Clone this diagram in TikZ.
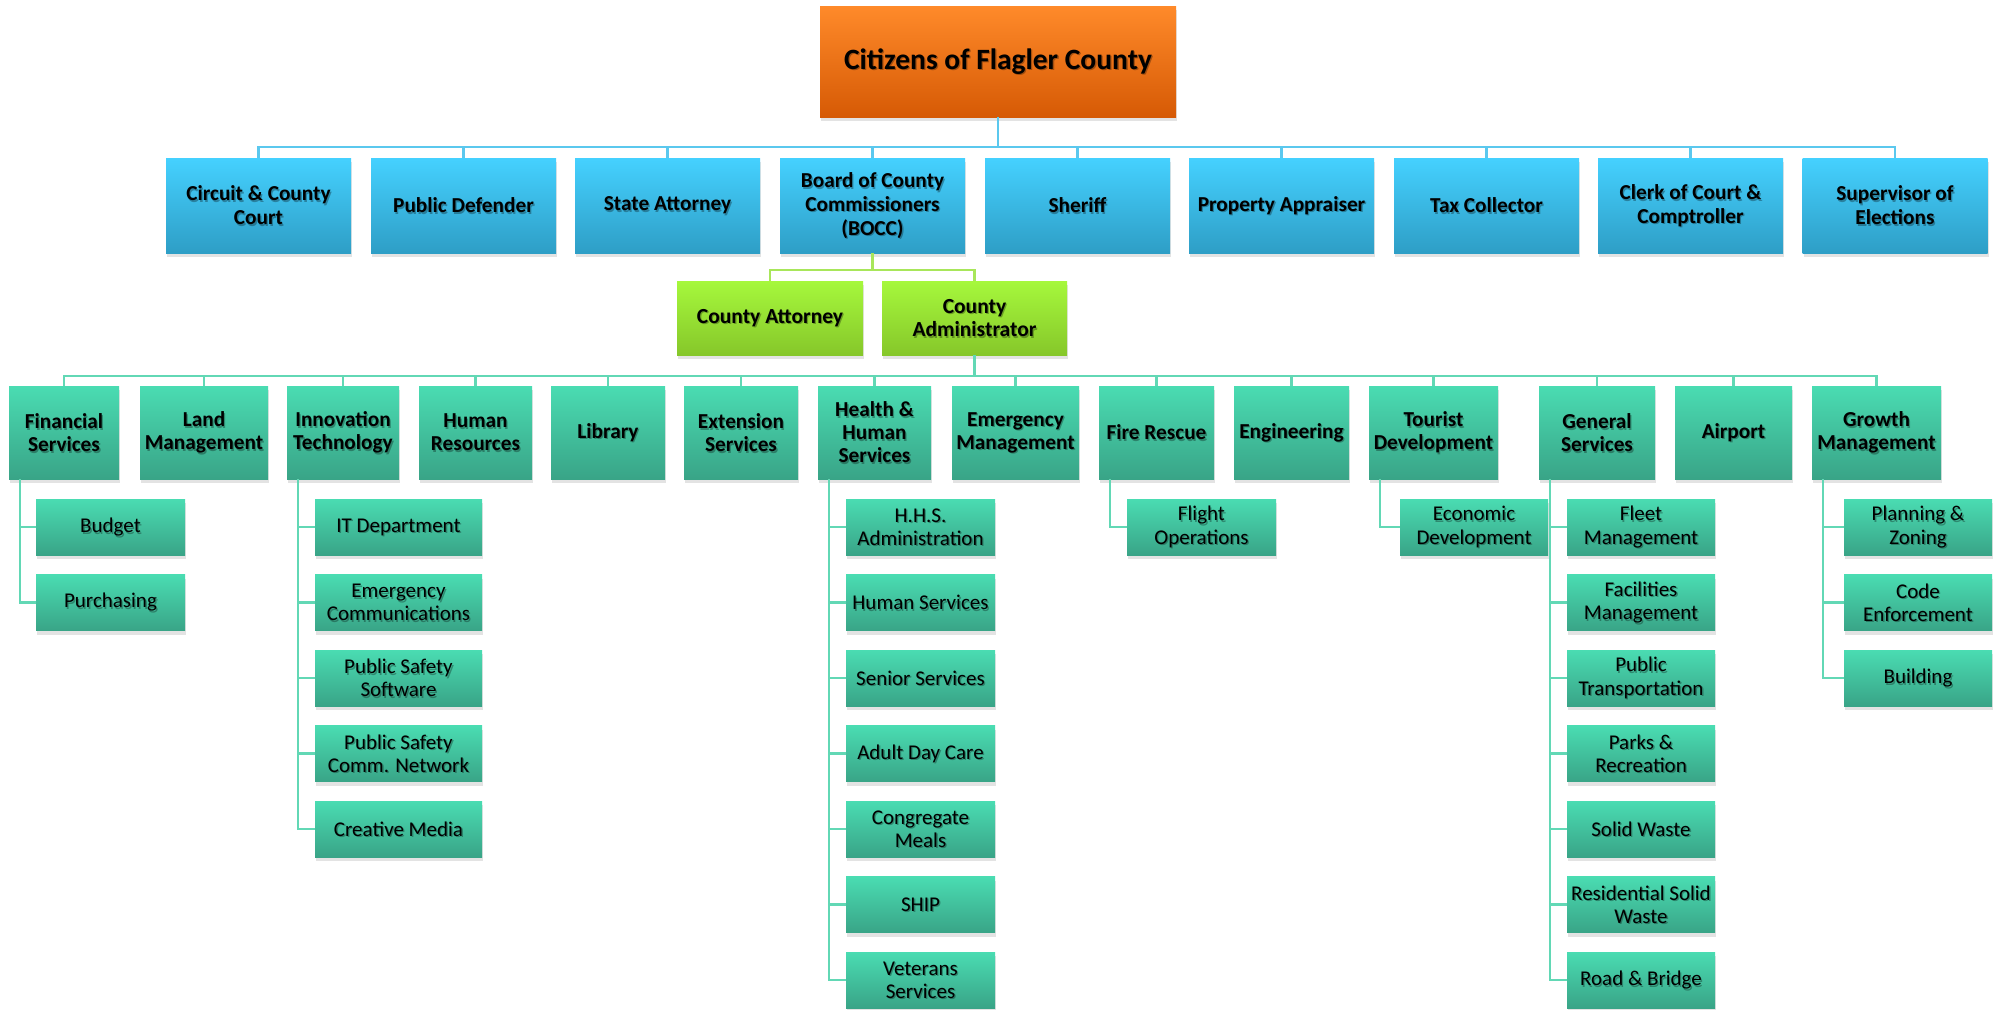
\documentclass[tikz,border=0pt]{standalone}
\usepackage{fontspec}
\setmainfont{Carlito}
\usetikzlibrary{shadows}
\definecolor{orT}{HTML}{FF8A2A}\definecolor{orB}{HTML}{D65A05}
\definecolor{blT}{HTML}{45D1FF}\definecolor{blB}{HTML}{2E9EC6}
\definecolor{grT}{HTML}{A6F83C}\definecolor{grB}{HTML}{86C72A}
\definecolor{tlT}{HTML}{4ADCB2}\definecolor{tlB}{HTML}{39A487}
\definecolor{blL}{HTML}{5BC8EE}\definecolor{grL}{HTML}{A8E65A}\definecolor{tlL}{HTML}{62D8B5}
\tikzset{
  box/.style={rectangle, inner sep=0pt,
    drop shadow={shadow xshift=1pt, shadow yshift=-4pt, opacity=0.22}},
  txt/.style={inner sep=0pt, align=center, text=black},
  orange/.style={box, top color=orT, bottom color=orB, minimum height=111pt},
  orange-t/.style={txt, font=\fontsize{29.5}{34}\selectfont\bfseries},
  blue/.style={box, top color=blT, bottom color=blB, minimum height=95pt},
  blue-t/.style={txt, font=\fontsize{21.3}{23.8}\selectfont\bfseries},
  green/.style={box, top color=grT, bottom color=grB, minimum height=74pt},
  green-t/.style={txt, font=\fontsize{21.5}{23.5}\selectfont\bfseries},
  dept/.style={box, top color=tlT, bottom color=tlB, minimum height=93pt},
  dept-t/.style={txt, font=\fontsize{21.3}{23}\selectfont\bfseries},
  sub/.style={box, top color=tlT, bottom color=tlB, minimum height=56pt},
  sub-t/.style={txt, font=\fontsize{21}{23.3}\selectfont},
  bline/.style={draw=blL, line width=2.5pt},
  gline/.style={draw=grL, line width=2.5pt},
  tline/.style={draw=tlL, line width=2.5pt},
}
% [extra text options]{style}{name}{x,y}{width}{text}
\newcommand\ob[6][]{%
  \node[#2, minimum width=#5pt] (#3) at (#4) {};
  \node[#2-t, #1, text opacity=.30] at ([shift={(1.3,1.6)}]#3.center) {#6};
  \node[#2-t, #1] at (#3.center) {#6};}
\begin{document}
\begin{tikzpicture}[x=1pt,y=-1pt]
\useasboundingbox (0,0) rectangle (2001,1009);
\fill[white] (0,0) rectangle (2001,1009);
\coordinate (bus1) at (0,147);
\coordinate (bus2) at (0,270);
\coordinate (bus3) at (0,376);

\ob{orange}{top}{998,61.5}{356}{Citizens of Flagler County}

\ob{blue}{cc}{258.5,205.5}{185}{Circuit \& County\\Court}
\ob{blue}{pd}{463.5,205.5}{185}{Public Defender}
\ob{blue}{sa}{667.5,205.5}{185}{State Attorney}
\ob{blue}{bocc}{872.5,205.5}{185}{Board of County\\Commissioners\\(BOCC)}
\ob{blue}{sh}{1077.5,205.5}{185}{Sheriff}
\ob{blue}{pa}{1281.5,205.5}{185}{Property Appraiser}
\ob{blue}{tc}{1486.5,205.5}{185}{Tax Collector}
\ob{blue}{clerk}{1690.5,205.5}{185}{Clerk of Court \&\\Comptroller}
\ob{blue}{soe}{1895,205.5}{185}{Supervisor of\\Elections}

\ob{green}{catt}{770,318}{186}{County Attorney}
\ob{green}{cadm}{974.5,318}{185}{County\\Administrator}

\ob{dept}{fin}{64,432.5}{110}{Financial\\Services}
\ob{dept}{land}{204,432.5}{128}{Land\\Management}
\ob{dept}{innov}{343,432.5}{112}{Innovation\\Technology}
\ob{dept}{hr}{475.5,432.5}{113}{Human\\Resources}
\ob{dept}{lib}{608,432.5}{114}{Library}
\ob{dept}{ext}{741,432.5}{114}{Extension\\Services}
\ob{dept}{hhs}{874.5,432.5}{113}{Health \&\\Human\\Services}
\ob{dept}{em}{1015.5,432.5}{127}{Emergency\\Management}
\ob{dept}{fire}{1156.5,432.5}{115}{Fire Rescue}
\ob{dept}{eng}{1291.5,432.5}{115}{Engineering}
\ob{dept}{tour}{1433.5,432.5}{129}{Tourist\\Development}
\ob{dept}{gen}{1597,432.5}{116}{General\\Services}
\ob{dept}{air}{1733.5,432.5}{117}{Airport}
\ob{dept}{grow}{1876.5,432.5}{129}{Growth\\Management}

\ob{sub}{bud}{110.5,527}{149}{Budget}
\ob{sub}{pur}{110.5,602.5}{149}{Purchasing}

\ob{sub}{it1}{398.5,527}{167}{IT Department}
\ob{sub}{it2}{398.5,602.5}{167}{Emergency\\Communications}
\ob{sub}{it3}{398.5,678}{167}{Public Safety\\Software}
\ob{sub}{it4}{398.5,753.5}{167}{Public Safety\\Comm. Network}
\ob{sub}{it5}{398.5,829}{167}{Creative Media}

\ob{sub}{h1}{920.5,527}{149}{H.H.S.\\Administration}
\ob{sub}{h2}{920.5,602.5}{149}{Human Services}
\ob{sub}{h3}{920.5,678}{149}{Senior Services}
\ob{sub}{h4}{920.5,753.5}{149}{Adult Day Care}
\ob{sub}{h5}{920.5,829}{149}{Congregate\\Meals}
\ob{sub}{h6}{920.5,904.5}{149}{SHIP}
\ob{sub}{h7}{920.5,980}{149}{Veterans\\Services}

\ob{sub}{fo}{1201.5,527}{149}{Flight\\Operations}
\ob{sub}{ed}{1474,527}{148}{Economic\\Development}

\ob{sub}{g1}{1641,527}{148}{Fleet\\Management}
\ob{sub}{g2}{1641,602.5}{148}{Facilities\\Management}
\ob{sub}{g3}{1641,678}{148}{Public\\Transportation}
\ob{sub}{g4}{1641,753.5}{148}{Parks \&\\Recreation}
\ob{sub}{g5}{1641,829}{148}{Solid Waste}
\ob{sub}{g6}{1641,904.5}{148}{Residential Solid\\Waste}
\ob{sub}{g7}{1641,980}{148}{Road \& Bridge}

\ob{sub}{p1}{1918,527}{148}{Planning \&\\Zoning}
\ob{sub}{p2}{1918,602.5}{148}{Code\\Enforcement}
\ob{sub}{p3}{1918,678}{148}{Building}

% connectors
\draw[bline] (top.south) -- (top.south |- bus1);
\foreach \n in {cc,pd,sa,bocc,sh,pa,tc,clerk,soe}
  \draw[bline] (\n.north) |- (top.south |- bus1);
\draw[gline] (bocc.south) -- (bocc.south |- bus2);
\foreach \n in {catt,cadm}
  \draw[gline] (\n.north) |- (bocc.south |- bus2);
\draw[tline] (cadm.south) -- (cadm.south |- bus3);
\foreach \n in {fin,land,innov,hr,lib,ext,hhs,em,fire,eng,tour,gen,air,grow}
  \draw[tline] (\n.north) |- (cadm.south |- bus3);
\foreach \p/\c in {fin/bud,fin/pur,innov/it1,innov/it2,innov/it3,innov/it4,innov/it5,
  hhs/h1,hhs/h2,hhs/h3,hhs/h4,hhs/h5,hhs/h6,hhs/h7,fire/fo,tour/ed,
  gen/g1,gen/g2,gen/g3,gen/g4,gen/g5,gen/g6,gen/g7,grow/p1,grow/p2,grow/p3}
  \draw[tline] (\p.south west) ++(11,0) |- (\c.west);
\end{tikzpicture}
\end{document}
